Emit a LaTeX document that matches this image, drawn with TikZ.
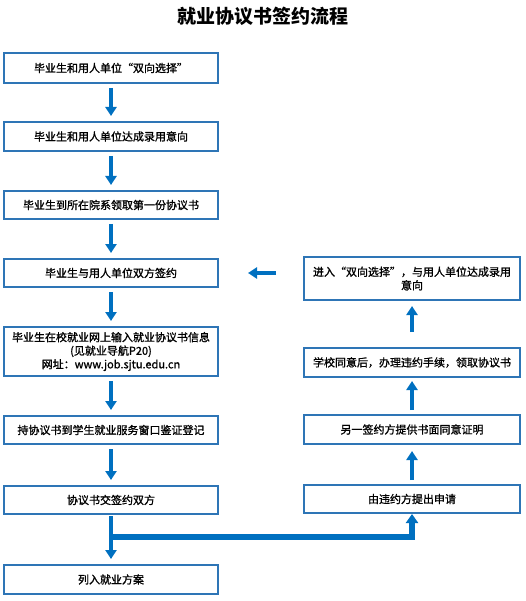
\documentclass[tikz,border=0pt]{standalone}
\usepackage{fontspec}
\setmainfont{Noto Sans CJK SC}
\newfontfamily\boxfont{Noto Sans CJK SC}[FakeBold=1.2]
\usetikzlibrary{arrows.meta}
\definecolor{boxblue}{HTML}{2E75B6}
\definecolor{arrblue}{HTML}{0070C0}
\tikzset{
  stepbox/.style={draw=boxblue, line width=2pt, fill=white, align=center,
    font=\boxfont\fontsize{11}{13.5}\selectfont, inner sep=0pt},
  leftbox/.style={stepbox, minimum width=214pt},
  rightbox/.style={stepbox, minimum width=216pt},
  arr/.style={draw=arrblue, line width=4pt, -{Triangle[width=11pt,length=9pt]}},
  branch/.style={draw=arrblue, line width=5.5pt, line join=miter, -{Triangle[width=12pt,length=9pt]}},
}
\begin{document}
\begin{tikzpicture}[x=1pt,y=-1pt]
\useasboundingbox (0,0) rectangle (526,601);
\node[font=\bfseries\fontsize{19}{22}\selectfont] (title) at (263,16) {就业协议书签约流程};
\node[leftbox, minimum height=30pt] (b1) at (111,68) {毕业生和用人单位“双向选择”};
\node[leftbox, minimum height=29pt] (b2) at (111,136.5) {毕业生和用人单位达成录用意向};
\node[leftbox, minimum height=28pt] (b3) at (111,205) {毕业生到所在院系领取第一份协议书};
\node[leftbox, minimum height=28pt] (b4) at (111,273) {毕业生与用人单位双方签约};
\node[leftbox, minimum height=49pt] (b5) at (111,351.5) {毕业生在校就业网上输入就业协议书信息\\(见就业导航P20)\\网址：www.job.sjtu.edu.cn};
\node[leftbox, minimum height=28pt] (b6) at (111,430) {持协议书到学生就业服务窗口鉴证登记};
\node[leftbox, minimum height=28pt] (b7) at (111,500) {协议书交签约双方};
\node[leftbox, minimum height=29pt] (b8) at (111,579.5) {列入就业方案};
\node[rightbox, minimum height=43pt] (r1) at (412,278.5) {进入“双向选择”，与用人单位达成录用\\意向};
\node[rightbox, minimum height=29pt] (r2) at (412,362.5) {学校同意后，办理违约手续，领取协议书};
\node[rightbox, minimum height=29pt] (r3) at (412,429.5) {另一签约方提供书面同意证明};
\node[rightbox, minimum height=28pt] (r4) at (412,499) {由违约方提出申请};
\draw[arr] ([yshift=-4pt]b1.south) -- ([yshift=5pt]b2.north);
\draw[arr] ([yshift=-4pt]b2.south) -- ([yshift=5pt]b3.north);
\draw[arr] ([yshift=-4pt]b3.south) -- ([yshift=5pt]b4.north);
\draw[arr] ([yshift=-4pt]b4.south) -- ([yshift=5pt]b5.north);
\draw[arr] ([yshift=-4pt]b5.south) -- ([yshift=5pt]b6.north);
\draw[arr] ([yshift=-4pt]b6.south) -- ([yshift=5pt]b7.north);
\draw[arr] ([yshift=-1pt]b7.south) -- ([yshift=5pt]b8.north);
\coordinate (j) at (112,537);
\draw[branch] (j) -| (r4.south);
\draw[arr] ([yshift=4pt]r4.north) -- ([yshift=-6pt]r3.south);
\draw[arr] ([yshift=4pt]r3.north) -- ([yshift=-3pt]r2.south);
\draw[arr] ([yshift=15pt]r2.north) -- ([yshift=-5pt]r1.south);
\draw[arr] ([xshift=-27pt]r1.west |- b4.east) -- ([xshift=29pt]b4.east);
\end{tikzpicture}
\end{document}
